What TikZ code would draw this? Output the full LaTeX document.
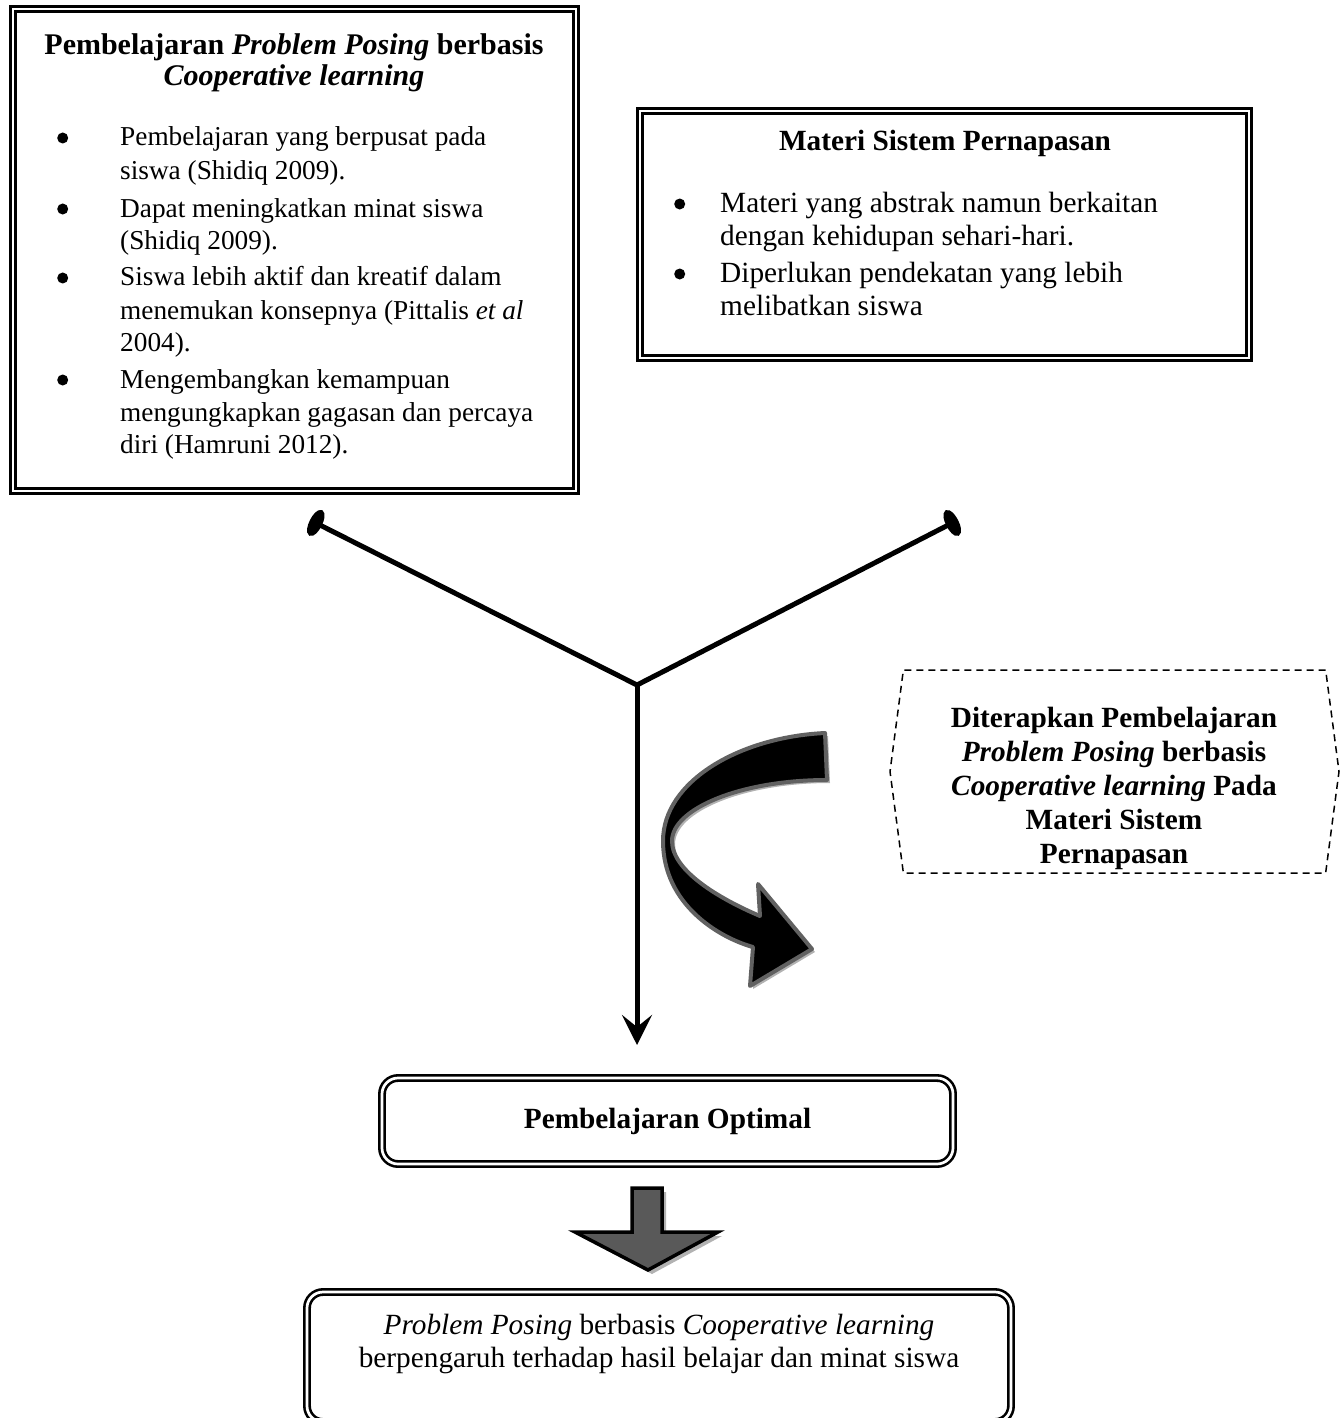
\documentclass[tikz,border=0pt]{standalone}
\usepackage{fontspec}
\setmainfont{Liberation Serif}
\usepackage{tikz}
\usetikzlibrary{arrows.meta,shapes.symbols}
\tikzstyle{dbox}=[draw=black,double=white,double distance=2.7pt,line width=2.6pt,inner sep=0pt]
\tikzstyle{rbox}=[dbox,rounded corners=16pt]
\tikzstyle{txt}=[inner sep=0pt,anchor=base]
\tikzstyle{ends}=[line width=5pt,line join=round]
\newcommand{\txtsz}{\fontsize{29.3}{33}\selectfont}
\newcommand{\listsz}{\fontsize{27.3}{33}\selectfont}
\newcommand{\dotmark}{\tikz[baseline=0pt]\fill (5pt,8pt) circle[radius=5.5pt];}

\begin{document}
\begin{tikzpicture}[x=1pt,y=-1pt,font=\txtsz]
  \useasboundingbox (0,0) rectangle (1340,1418);
  \node[dbox,minimum width=563pt,minimum height=482pt] (boxA) at (294.5,250) {};
  \node[txt,font=\fontsize{30}{31}\selectfont\bfseries] (titleA) at (294,55) {\begin{tabular}[t]{@{}c@{}}
      Pembelajaran \textit{Problem Posing} berbasis\\
      \textit{Cooperative learning}\end{tabular}};
  \node[txt,anchor=base west,font=\listsz] (listA) at (57,146) {\begin{tabular}[t]{@{}p{63pt}@{}l@{}}
      \dotmark & Pembelajaran yang berpusat pada\\
      & siswa (Shidiq 2009).\\[5pt]
      \dotmark & Dapat meningkatkan minat siswa\\
      & (Shidiq 2009).\\[3pt]
      \dotmark & Siswa lebih aktif dan kreatif dalam\\
      & menemukan konsepnya (Pittalis \textit{et al}\\
      & 2004).\\[3pt]
      \dotmark & Mengembangkan kemampuan\\
      & mengungkapkan gagasan dan percaya\\
      & diri (Hamruni 2012).\end{tabular}};

  \node[dbox,minimum width=609pt,minimum height=247pt] (boxB) at (944.5,234.5) {};
  \node[txt,font=\txtsz\bfseries] (titleB) at (945,150) {Materi Sistem Pernapasan};
  \node[txt,anchor=base west] (listB) at (674,212) {\begin{tabular}[t]{@{}p{46pt}@{}l@{}}
      \dotmark & Materi yang abstrak namun berkaitan\\
      & dengan kehidupan sehari-hari.\\[4pt]
      \dotmark & Diperlukan pendekatan yang lebih\\
      & melibatkan siswa\end{tabular}};

  \coordinate (endA) at (310,520);
  \coordinate (endB) at (958,520);
  \coordinate (meet) at (637,685);
  \coordinate (tipC) at (637,1045);
  \draw[ends,{Ellipse[length=13pt,width=28pt]}-{Ellipse[length=13pt,width=28pt]}] (endA) -- (meet) -- (endB);
  \draw[ends,-{Stealth[length=30pt,width=30pt,inset=12pt]}] (meet) -- (tipC);

  \draw[draw=black!62,fill=black,line width=4pt,line join=round,
    preaction={fill=black!30,transform canvas={shift={(3pt,-3pt)}}}]
    (825,733) .. controls (740,737) and (663,781) .. (663,841)
    .. controls (663,905) and (720,938) .. (753,947) -- (750,986) -- (812,949)
    -- (758,884) -- (760,916) .. controls (720,899) and (672,871) .. (672,841)
    .. controls (672,809) and (740,780) .. (827,780) -- cycle;

  \node[signal,signal to=west and east,signal pointer angle=165,draw,
    line width=1.5pt,dash pattern=on 7pt off 5pt,minimum width=449pt,minimum height=203pt] (note) at (1114.5,771.5) {};
  \node[txt,font=\fontsize{29.3}{34}\selectfont\bfseries] (noteText) at (1114,727) {\begin{tabular}[t]{@{}c@{}}
      Diterapkan Pembelajaran\\
      \textit{Problem Posing} berbasis\\
      \textit{Cooperative learning} Pada\\
      Materi Sistem\\
      Pernapasan\end{tabular}};

  \node[rbox,minimum width=571pt,minimum height=86pt,font=\txtsz\bfseries] (opt) at (667.5,1121) {Pembelajaran Optimal};

  \draw[fill=black!65,line width=3.5pt,line join=miter,
    preaction={fill=black!30,transform canvas={shift={(4pt,-4pt)}}}]
    (632,1188) -- (662,1188) -- (662,1232) -- (718,1232) -- (648,1270)
    -- (575,1232) -- (632,1232) -- cycle;

  \node[rbox,minimum width=704pt,minimum height=130pt] (res) at (659,1357) {};
  \node[txt] (resText) at (659,1334) {\begin{tabular}[t]{@{}c@{}}
      \textit{Problem Posing} berbasis \textit{Cooperative learning}\\
      berpengaruh terhadap hasil belajar dan minat siswa\end{tabular}};
\end{tikzpicture}
\end{document}
